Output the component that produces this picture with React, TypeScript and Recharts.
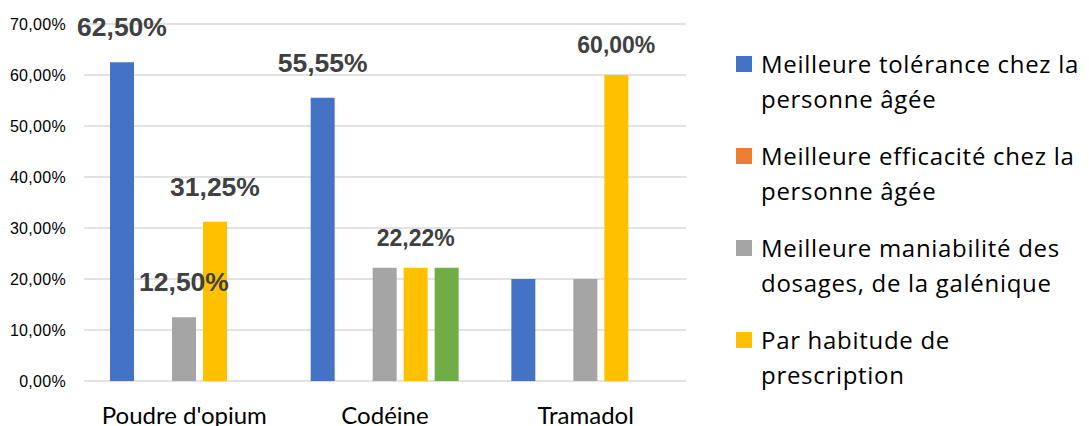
import React from 'react';
import { BarChart, Bar, XAxis, YAxis, CartesianGrid, Legend, LabelList } from 'recharts';

const categories = ["Poudre d'opium", 'Codéine', 'Tramadol'];

const tolerance = [62.5, 55.55, 20];
const efficacite = [0, 0, 0];
const maniabilite = [12.5, 22.22, 20];
const habitude = [31.25, 22.22, 60];
const autre = [0, 22.22, 0];

// which bars carry a value label
const toleranceLabels = [true, true, false];
const maniabiliteLabels = [true, false, false];
const habitudeLabels = [true, true, true];

const yTicks = [0, 10, 20, 30, 40, 50, 60, 70];

const series = [
  { key: 'tolerance', name: 'Meilleure tolérance chez la\npersonne âgée', color: '#4472C4' },
  { key: 'efficacite', name: 'Meilleure efficacité chez la\npersonne âgée', color: '#ED7D31' },
  { key: 'maniabilite', name: 'Meilleure maniabilité des\ndosages, de la galénique', color: '#A5A5A5' },
  { key: 'habitude', name: 'Par habitude de\nprescription', color: '#FFC000' },
  { key: 'autre', name: 'Autre', color: '#70AD47' },
];

const data = categories.map((name, i) => ({
  name,
  tolerance: tolerance[i],
  efficacite: efficacite[i],
  maniabilite: maniabilite[i],
  habitude: habitude[i],
  autre: autre[i],
}));

const fmt = (v: number) => v.toFixed(2).replace('.', ',') + '%';

function makeLabel(flags: boolean[]) {
  return (props: any) => {
    const { x, y, width, value, index } = props;
    if (!flags[index]) return null;
    // the last two labels in the original are set a bit smaller
    const small = value === 22.22 || value === 60;
    return (
      <text
        x={Number(x) + Number(width) / 2}
        y={Number(y) - (small ? 22 : 26)}
        textAnchor="middle"
        fill="#404040"
        fontFamily='"Liberation Sans", Arial, sans-serif'
        fontWeight="bold"
        fontSize={small ? 23 : 26.5}
      >
        {fmt(Number(value))}
      </text>
    );
  };
}

// the legend in the original is cut off after the fourth entry
function SideLegend() {
  return (
    <div style={{ fontFamily: '"Open Sans", sans-serif', fontSize: 24, letterSpacing: 0.7, color: '#000' }}>
      {series.slice(0, 4).map((s) => (
        <div key={s.key} style={{ display: 'flex', marginBottom: 22 }}>
          <div style={{ width: 16, height: 16, background: s.color, marginTop: 10, marginRight: 9, flexShrink: 0 }} />
          <div style={{ lineHeight: '35px', whiteSpace: 'pre-line' }}>{s.name}</div>
        </div>
      ))}
    </div>
  );
}

export default function App() {
  return (
    <BarChart
      width={1081}
      height={418}
      data={data}
      margin={{ top: 16, right: 403, bottom: 0, left: 0 }}
      barGap={7}
    >
      <CartesianGrid vertical={false} stroke="#D9D9D9" strokeWidth={1.5} />
      <XAxis
        dataKey="name"
        axisLine={false}
        tickLine={false}
        tickSize={0}
        tickMargin={26}
        height={45}
        interval={0}
        tick={{ fill: '#000', fontSize: 24, fontFamily: 'Lato, sans-serif' }}
      />
      <YAxis
        width={76}
        domain={[0, 70]}
        ticks={yTicks}
        axisLine={false}
        tickLine={false}
        tickSize={0}
        tickMargin={18}
        tickFormatter={fmt}
        tick={{ fill: '#000', fontSize: 16, fontFamily: '"Liberation Sans", Arial, sans-serif', letterSpacing: 0.3 }}
      />
      <Legend
        layout="vertical"
        align="center"
        verticalAlign="middle"
        content={<SideLegend />}
        wrapperStyle={{ left: 728, top: 38, width: 360 }}
      />
      {series.map((s) => (
        <Bar
          key={s.key}
          dataKey={s.key}
          name={s.name}
          fill={s.color}
          barSize={24}
          isAnimationActive={false}
        >
          {s.key === 'tolerance' && <LabelList dataKey="tolerance" content={makeLabel(toleranceLabels)} />}
          {s.key === 'maniabilite' && <LabelList dataKey="maniabilite" content={makeLabel(maniabiliteLabels)} />}
          {s.key === 'habitude' && <LabelList dataKey="habitude" content={makeLabel(habitudeLabels)} />}
        </Bar>
      ))}
    </BarChart>
  );
}
